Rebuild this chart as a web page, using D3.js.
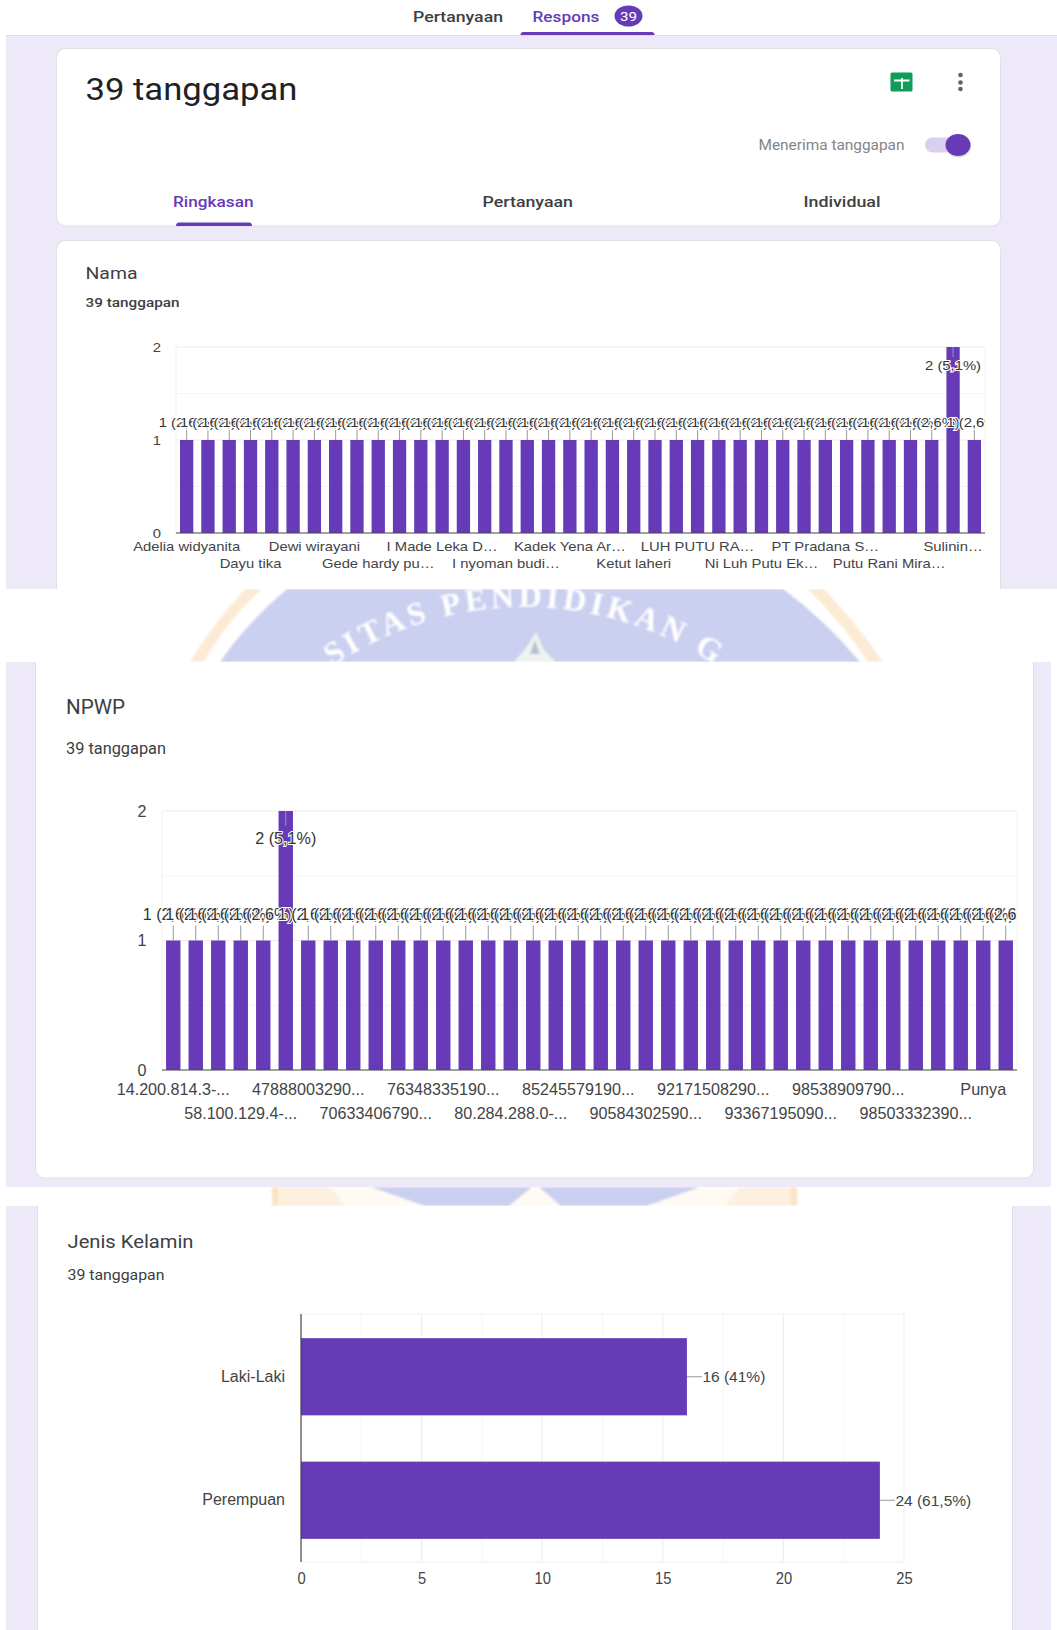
<!DOCTYPE html>
<html lang="id">
<head>
<meta charset="UTF-8">
<title>39 tanggapan</title>
<script src="https://d3js.org/d3.v7.min.js"></script>
<style>
    html, body { margin: 0; padding: 0; background: #fff; }
    svg { display: block; }
    .tick line { display: none; }
    .domain { display: none; }
</style>
</head>
<body>
<svg id="page" width="1057" height="1630"></svg>
<script>
// --- data ---
const totalResponses = 39;

const namaValues = [1,1,1,1,1,1,1,1,1,1,1,1,1,1,1,1,1,1,1,1,1,1,1,1,1,1,1,1,1,1,1,1,1,1,1,1,2,1];
const namaTickLabels = ["Adelia widyanita", "Dayu tika", "Dewi wirayani", "Gede hardy pu…", "I Made Leka D…", "I nyoman budi…",
    "Kadek Yena Ar…", "Ketut laheri", "LUH PUTU RA…", "Ni Luh Putu Ek…", "PT Pradana S…", "Putu Rani Mira…", "Sulinin…"];

const npwpValues = [1,1,1,1,1,2,1,1,1,1,1,1,1,1,1,1,1,1,1,1,1,1,1,1,1,1,1,1,1,1,1,1,1,1,1,1,1,1];
const npwpTickLabels = ["14.200.814.3-...", "58.100.129.4-...", "47888003290...", "70633406790...", "76348335190...", "80.284.288.0-...",
    "85245579190...", "90584302590...", "92171508290...", "93367195090...", "98538909790...", "98503332390...", "Punya"];

const genderCategories = ["Laki-Laki", "Perempuan"];
const genderValues = [16, 24];
const genderTicks = [0, 5, 10, 15, 20, 25];

const purple = "#673ab7";
const lavender = "#ede9f8";
const cardLine = "#e0e0e6";
const svg = d3.select("#page");

function pctLabel(v) {
    const p = d3.format(".1f")(v / totalResponses * 100).replace(".", ",").replace(",0", "");
    return v + " (" + p + "%)";
}

// text squeezed to the measured width, the screenshot is stretched differently per section
function put(parent, str, x, y, size, width, color, weight) {
    return parent.append("text")
        .attr("x", x).attr("y", y)
        .attr("dy", "0.35em")
        .attr("font-family", "Roboto, sans-serif")
        .attr("font-size", size)
        .attr("font-weight", weight || 400)
        .attr("fill", color || "#202124")
        .attr("textLength", width)
        .attr("lengthAdjust", "spacingAndGlyphs")
        .text(str);
}

function card(parent, x, y, w, h) {
    parent.append("rect").attr("x", x).attr("y", y).attr("width", w).attr("height", h)
        .attr("rx", 9).attr("fill", "#fff").attr("stroke", cardLine).attr("stroke-width", 1);
}

// one clipped slice of the screenshot
let clipCount = 0;
function slice(x, y, w, h) {
    const id = "clip" + (clipCount++);
    svg.append("clipPath").attr("id", id).append("rect").attr("x", x).attr("y", y).attr("width", w).attr("height", h);
    const g = svg.append("g").attr("clip-path", "url(#" + id + ")");
    g.append("rect").attr("x", x).attr("y", y).attr("width", w).attr("height", h).attr("fill", lavender);
    return g;
}

// vertical bars used by Nama and NPWP
function columnChart(parent, values, tickLabels, o) {
    const x = d3.scaleBand().domain(d3.range(values.length)).range([o.left, o.right])
        .paddingInner(o.pad).paddingOuter(o.pad / 2);
    const y = d3.scaleLinear().domain([0, 2]).range([o.bottom, o.top]);
    const font = "'Liberation Sans', Arial, sans-serif";

    parent.selectAll(null).data([0.5, 1, 1.5, 2]).join("line")
        .attr("x1", o.left).attr("x2", o.right)
        .attr("y1", d => y(d)).attr("y2", d => y(d))
        .attr("stroke", d => Number.isInteger(d) ? "#ececec" : "#f5f5f5");
    parent.selectAll(null).data([o.left, o.right]).join("line")
        .attr("x1", d => d).attr("x2", d => d)
        .attr("y1", o.top).attr("y2", o.bottom)
        .attr("stroke", "#f2f2f2");

    parent.selectAll(null).data(values).join("rect")
        .attr("x", (d, i) => x(i)).attr("width", x.bandwidth())
        .attr("y", d => y(d)).attr("height", d => o.bottom - y(d))
        .attr("fill", purple);

    parent.append("line").attr("x1", o.left).attr("x2", o.right)
        .attr("y1", o.bottom).attr("y2", o.bottom).attr("stroke", "#444").attr("stroke-width", 1.2);

    // y axis
    parent.append("g").attr("transform", "translate(" + (o.left - 7) + ",0)")
        .call(d3.axisLeft(y).tickValues([0, 1, 2]).tickFormat(d3.format("d")).tickSize(0).tickPadding(o.yPad))
        .call(g => g.selectAll("text").attr("font-family", font).attr("font-size", o.font)
            .attr("fill", "#444").attr("transform", "scale(" + o.sx + ",1)"));

    // x axis, every third name on two staggered rows
    const tickIdx = tickLabels.map((d, i) => i * 3);
    parent.append("g").attr("transform", "translate(0," + o.bottom + ")")
        .call(d3.axisBottom(x).tickValues(tickIdx).tickFormat(d => tickLabels[d / 3]).tickSize(0))
        .call(g => g.selectAll("text").attr("font-family", font).attr("font-size", o.font)
            .attr("fill", "#444")
            .attr("y", (d, i) => i % 2 ? o.row2 : o.row1).attr("dy", "0.35em")
            .attr("transform", "scale(" + o.sx + ",1)"));

    // leaders and value labels, clipped on the right like the original
    const clipId = "labels" + (clipCount++);
    parent.append("clipPath").attr("id", clipId).append("rect")
        .attr("x", 0).attr("y", o.top).attr("width", o.right).attr("height", o.bottom - o.top);
    const lab = parent.append("g").attr("clip-path", "url(#" + clipId + ")");
    values.forEach((v, i) => {
        const cx = x(i) + x.bandwidth() / 2;
        const barTop = y(v);
        const tall = barTop <= o.top + 1;
        lab.append("line").attr("x1", cx).attr("x2", cx)
            .attr("y1", tall ? barTop : barTop - o.lead).attr("y2", tall ? barTop + o.lead : barTop)
            .attr("stroke", "#999");
        lab.append("text")
            .attr("transform", "translate(" + cx + "," + (tall ? barTop + o.tallGap : barTop - o.gap) + ") scale(" + o.sx + ",1)")
            .attr("dy", "0.35em").attr("text-anchor", "middle")
            .attr("font-family", font).attr("font-size", o.font).attr("fill", "#333")
            .attr("stroke", "#fff").attr("stroke-width", 2).attr("paint-order", "stroke")
            .text(pctLabel(v));
    });
}

// --- section 1: header and Nama ---
const s1 = slice(6, 35, 1051, 554);
card(s1, 56.5, 48.5, 944, 177.5);
card(s1, 56.5, 240.5, 944, 400);

const header = svg.append("g");
header.append("line").attr("x1", 6).attr("x2", 1057).attr("y1", 35.5).attr("y2", 35.5).attr("stroke", "#dcdce4");
put(header, "Pertanyaan", 413, 17, 15, 90, "#3c4043", 500);
put(header, "Respons", 532.5, 17, 15, 67, "#673ab7", 500);
header.append("ellipse").attr("cx", 628.5).attr("cy", 16).attr("rx", 14).attr("ry", 10.5).attr("fill", purple);
put(header, "39", 620, 16.5, 13, 17, "#fff");
header.append("path").attr("d", "M520.5,35 Q520.5,32 523.5,32 L651.5,32 Q654.5,32 654.5,35 Z").attr("fill", purple);

put(header, "39 tanggapan", 85.5, 89.5, 31, 212, "#202124");
header.append("rect").attr("x", 890.5).attr("y", 72.5).attr("width", 22).attr("height", 19).attr("rx", 1.5).attr("fill", "#0f9d58");
header.append("path").attr("d", "M894,80.5 H909.5 M902,78 V89").attr("stroke", "#fff").attr("stroke-width", 1.8).attr("fill", "none");
header.selectAll(null).data([75, 82.5, 89]).join("circle")
    .attr("cx", 960.5).attr("cy", d => d).attr("r", 2.3).attr("fill", "#5f6368");
put(header, "Menerima tanggapan", 758.5, 145, 14, 146, "#80868b");
header.append("rect").attr("x", 925).attr("y", 137.5).attr("width", 34).attr("height", 15).attr("rx", 7.5).attr("fill", "#d9cfee");
header.append("ellipse").attr("cx", 958.5).attr("cy", 146).attr("rx", 12.5).attr("ry", 11.5).attr("fill", "#bdbdbd").attr("opacity", 0.5);
header.append("ellipse").attr("cx", 958).attr("cy", 145).attr("rx", 12.5).attr("ry", 11).attr("fill", purple);
put(header, "Ringkasan", 173, 202, 15, 80.5, "#673ab7", 500);
put(header, "Pertanyaan", 482.5, 202, 15, 90.5, "#3c4043", 500);
put(header, "Individual", 803.5, 202, 15, 77, "#3c4043", 500);
header.append("path").attr("d", "M176,226 Q176,222.5 179,222.5 L249,222.5 Q252,222.5 252,226 Z").attr("fill", purple);

put(s1, "Nama", 85.5, 273, 17, 52, "#3c4043");
put(s1, "39 tanggapan", 85.5, 302, 13.5, 94, "#3c4043", 500);

columnChart(s1, namaValues, namaTickLabels, {
    left: 176, right: 985, top: 347, bottom: 533, pad: 0.375,
    font: 13, sx: 1.14, row1: 13, row2: 30, yPad: 7,
    lead: 10, gap: 18, tallGap: 18
});

// --- watermark showing between the pasted slices ---
const mark1 = svg.append("g");
svg.append("clipPath").attr("id", "band1").append("rect").attr("x", 0).attr("y", 589).attr("width", 1057).attr("height", 73);
svg.append("filter").attr("id", "soft").append("feGaussianBlur").attr("stdDeviation", 0.8);
mark1.attr("clip-path", "url(#band1)");
const markIn = mark1.append("g").attr("filter", "url(#soft)");
markIn.append("path").attr("d", "M245,589 Q212,625 190,662 L204,662 Q226,622 262,589 Z").attr("fill", "#fcebd4");
markIn.append("path").attr("d", "M807,589 L824,589 Q858,625 883,662 L868,662 Q842,622 807,589 Z").attr("fill", "#fcebd4");
markIn.append("path").attr("d", "M287,589 Q245,625 220,662 L860,662 Q825,620 783,589 Z").attr("fill", "#cbcff0");
markIn.append("path").attr("id", "markArc").attr("d", "M271,720 A342,342 0 0 1 779,720").attr("fill", "none");
markIn.append("text").attr("font-family", "'Liberation Serif', serif").attr("font-weight", "bold")
    .attr("font-size", 32).attr("fill", "#fff").attr("letter-spacing", 4)
    .append("textPath").attr("href", "#markArc").attr("startOffset", "50%").attr("text-anchor", "middle")
    .text("SITAS PENDIDIKAN G");
markIn.append("path").attr("d", "M536,632 L544,650 L556,662 L514,662 L526,648 Z").attr("fill", "#eef3ee");
markIn.append("path").attr("d", "M535,640 L540,654 L530,654 Z").attr("fill", "#b4c3d8");

const mark2 = svg.append("g");
svg.append("clipPath").attr("id", "band2").append("rect").attr("x", 0).attr("y", 1187).attr("width", 1057).attr("height", 19);
mark2.attr("clip-path", "url(#band2)");
const mark2In = mark2.append("g").attr("filter", "url(#soft)");
mark2In.append("rect").attr("x", 272).attr("y", 1187).attr("width", 525).attr("height", 19).attr("fill", "#fffaf2");
mark2In.append("path").attr("d", "M272,1187 H330 L345,1206 H272 Z").attr("fill", "#fdf0de");
mark2In.append("path").attr("d", "M740,1187 H797 V1206 H725 Z").attr("fill", "#fdf0de");
mark2In.append("rect").attr("x", 272).attr("y", 1187).attr("width", 6).attr("height", 19).attr("fill", "#fbe3c3");
mark2In.append("rect").attr("x", 791).attr("y", 1187).attr("width", 6).attr("height", 19).attr("fill", "#fbe3c3");
mark2In.append("path").attr("d", "M371,1187 L425,1206 L509,1206 L532,1187 Z").attr("fill", "#cbcff0");
mark2In.append("path").attr("d", "M539,1187 L561,1206 L646,1206 L700,1187 Z").attr("fill", "#cbcff0");

// --- section 2: NPWP ---
const s2 = slice(6, 662, 1045, 525);
card(s2, 35.5, 640, 998, 538);
put(s2, "NPWP", 66, 707, 21, 59, "#3c4043");
put(s2, "39 tanggapan", 66, 748, 17, 100, "#3c4043");

columnChart(s2, npwpValues, npwpTickLabels, {
    left: 162, right: 1017, top: 811, bottom: 1070, pad: 0.36,
    font: 17, sx: 0.95, row1: 19, row2: 43, yPad: 9,
    lead: 15, gap: 26, tallGap: 27
});

// --- section 3: Jenis Kelamin ---
const s3 = slice(6, 1206, 1045, 424);
card(s3, 37.5, 1180, 975, 500);
put(s3, "Jenis Kelamin", 67.5, 1241, 19, 126, "#3c4043");
put(s3, "39 tanggapan", 67.5, 1275, 15, 97, "#3c4043");

const gx = d3.scaleLinear().domain([0, 25]).range([301, 904]);
const gy = d3.scaleBand().domain(genderCategories).range([1315, 1562]).paddingInner(0.375).paddingOuter(0.1875);
const gFont = "'Liberation Sans', Arial, sans-serif";

s3.selectAll(null).data(d3.range(2.5, 25.1, 2.5)).join("line")
    .attr("x1", d => gx(d)).attr("x2", d => gx(d))
    .attr("y1", 1314).attr("y2", 1562)
    .attr("stroke", d => d % 5 === 0 ? "#ececec" : "#f5f5f5");
s3.selectAll(null).data([1314, 1562]).join("line")
    .attr("x1", 301).attr("x2", 904).attr("y1", d => d).attr("y2", d => d).attr("stroke", "#f0f0f0");

s3.selectAll(null).data(genderValues).join("rect")
    .attr("x", gx(0)).attr("width", d => gx(d) - gx(0))
    .attr("y", (d, i) => gy(genderCategories[i])).attr("height", gy.bandwidth())
    .attr("fill", purple);

s3.append("line").attr("x1", 301).attr("x2", 301).attr("y1", 1314).attr("y2", 1562).attr("stroke", "#444").attr("stroke-width", 1.2);

s3.append("g").attr("transform", "translate(0,1562)")
    .call(d3.axisBottom(gx).tickValues(genderTicks).tickFormat(d3.format("d")).tickSize(0))
    .call(g => g.selectAll("text").attr("font-family", gFont).attr("font-size", 16).attr("fill", "#444")
        .attr("y", 16).attr("dy", "0.35em").attr("transform", "scale(0.92,1)"));
s3.append("g").attr("transform", "translate(285,0)")
    .call(d3.axisLeft(gy).tickSize(0).tickPadding(0))
    .call(g => g.selectAll("text").attr("font-family", gFont).attr("font-size", 16).attr("fill", "#444"));

genderValues.forEach((v, i) => {
    const cy = gy(genderCategories[i]) + gy.bandwidth() / 2;
    s3.append("line").attr("x1", gx(v)).attr("x2", gx(v) + 15).attr("y1", cy).attr("y2", cy).attr("stroke", "#999");
    s3.append("text").attr("x", gx(v) + 15.5).attr("y", cy).attr("dy", "0.35em")
        .attr("font-family", gFont).attr("font-size", 15.5).attr("fill", "#444")
        .text(pctLabel(v));
});
</script>
</body>
</html>
